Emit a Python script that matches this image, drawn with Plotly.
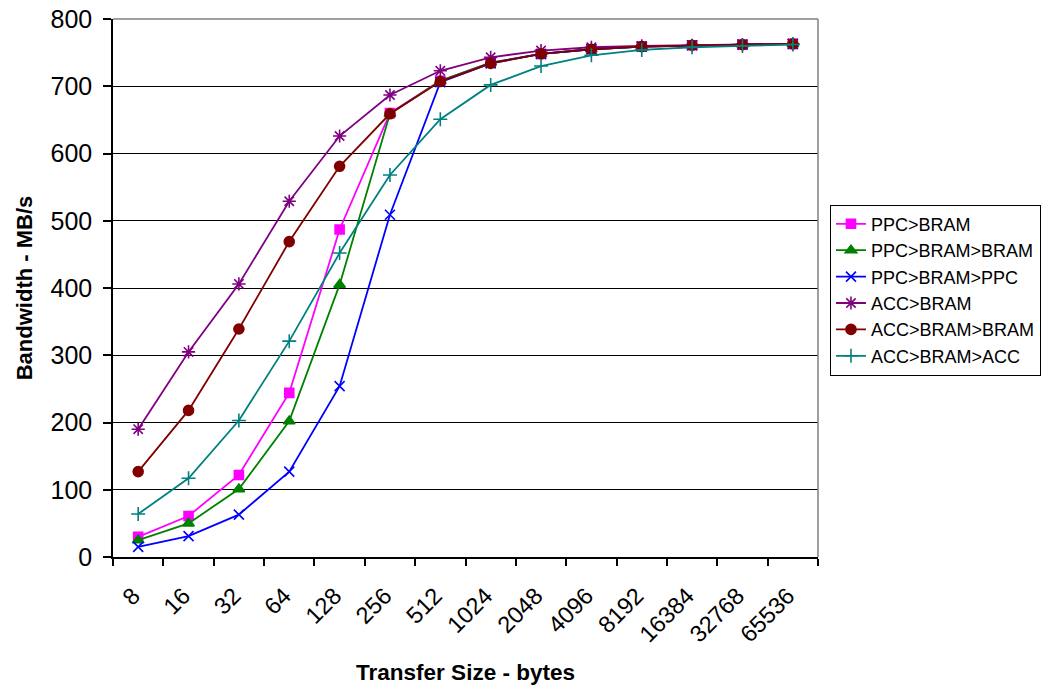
import plotly.graph_objects as go

sizes = ["8", "16", "32", "64", "128", "256", "512", "1024", "2048", "4096",
         "8192", "16384", "32768", "65536"]

ppc_bram = [30, 61, 122, 244, 487, 660, 708, 735, 748, 755, 759, 761, 762, 763]
ppc_bram_bram = [25, 50, 101, 202, 405, 659, 708, 735, 748, 755, 759, 761, 762, 763]
ppc_bram_ppc = [15, 31, 63, 127, 254, 509, 706, 734, 748, 755, 759, 761, 762, 763]
acc_bram = [190, 305, 406, 529, 626, 687, 723, 743, 753, 758, 760, 761, 762, 763]
acc_bram_bram = [127, 218, 339, 469, 581, 659, 707, 734, 748, 755, 759, 761, 762, 763]
acc_bram_acc = [64, 117, 203, 321, 452, 568, 651, 702, 730, 746, 754, 758, 760, 762]

series = [
    ("PPC>BRAM", ppc_bram, "#FF00FF", "square", 9),
    ("PPC>BRAM>BRAM", ppc_bram_bram, "#008000", "triangle-up", 10),
    ("PPC>BRAM>PPC", ppc_bram_ppc, "#0000FF", "x-thin-open", 10),
    ("ACC>BRAM", acc_bram, "#800080", "asterisk-open", 11),
    ("ACC>BRAM>BRAM", acc_bram_bram, "#800000", "circle", 10),
    ("ACC>BRAM>ACC", acc_bram_acc, "#008080", "cross-thin-open", 10),
]

FONT = "Liberation Sans, Arial, sans-serif"

fig = go.Figure()
for name, vals, color, sym, msize in series:
    fig.add_trace(go.Scatter(
        x=sizes, y=vals, name=name, mode="lines+markers",
        line=dict(color=color, width=1.8),
        marker=dict(symbol=sym, size=msize, color=color,
                    line=dict(color=color, width=1.6)),
    ))

fig.update_layout(
    width=1054, height=691,
    margin=dict(l=113, r=236, t=19, b=134, autoexpand=False),
    paper_bgcolor="white", plot_bgcolor="white",
    font=dict(family=FONT, color="black"),
    showlegend=True,
    legend=dict(
        x=1.017, y=0.655, xanchor="left", yanchor="top",
        bordercolor="black", borderwidth=1, bgcolor="white",
        font=dict(size=18, family=FONT),
        itemwidth=30, tracegroupgap=0,
    ),
    xaxis=dict(
        type="category", range=[-0.5, 13.5], automargin=False,
        tickson="boundaries", ticks="outside", ticklen=7, tickcolor="black",
        tickwidth=1.5,
        showgrid=False, showline=True, linecolor="black", linewidth=1.5,
        tickangle=-45, tickfont=dict(size=23.5, family=FONT),
        ticklabelstandoff=14, ticklabelshift=-5,
        title=dict(text="<b>Transfer Size - bytes</b>", font=dict(size=22.5, family=FONT),
                   standoff=18),
        zeroline=False,
    ),
    yaxis=dict(
        range=[0, 800], dtick=100, tick0=0, automargin=False,
        ticks="outside", ticklen=8, tickcolor="black", tickwidth=1.5,
        showgrid=True, gridcolor="black", gridwidth=1,
        showline=True, linecolor="black", linewidth=1.5,
        tickfont=dict(size=25, family=FONT),
        ticklabelstandoff=6,
        title=dict(text="<b>Bandwidth - MB/s</b>", font=dict(size=22, family=FONT),
                   standoff=12),
        zeroline=False,
    ),
    shapes=[
        dict(type="line", xref="paper", yref="paper", x0=0, x1=1, y0=1, y1=1,
             line=dict(color="#808080", width=1.5), layer="above"),
        dict(type="line", xref="paper", yref="paper", x0=1, x1=1, y0=0, y1=1,
             line=dict(color="#808080", width=1.5), layer="above"),
    ],
)

fig.write_html("out.html")
